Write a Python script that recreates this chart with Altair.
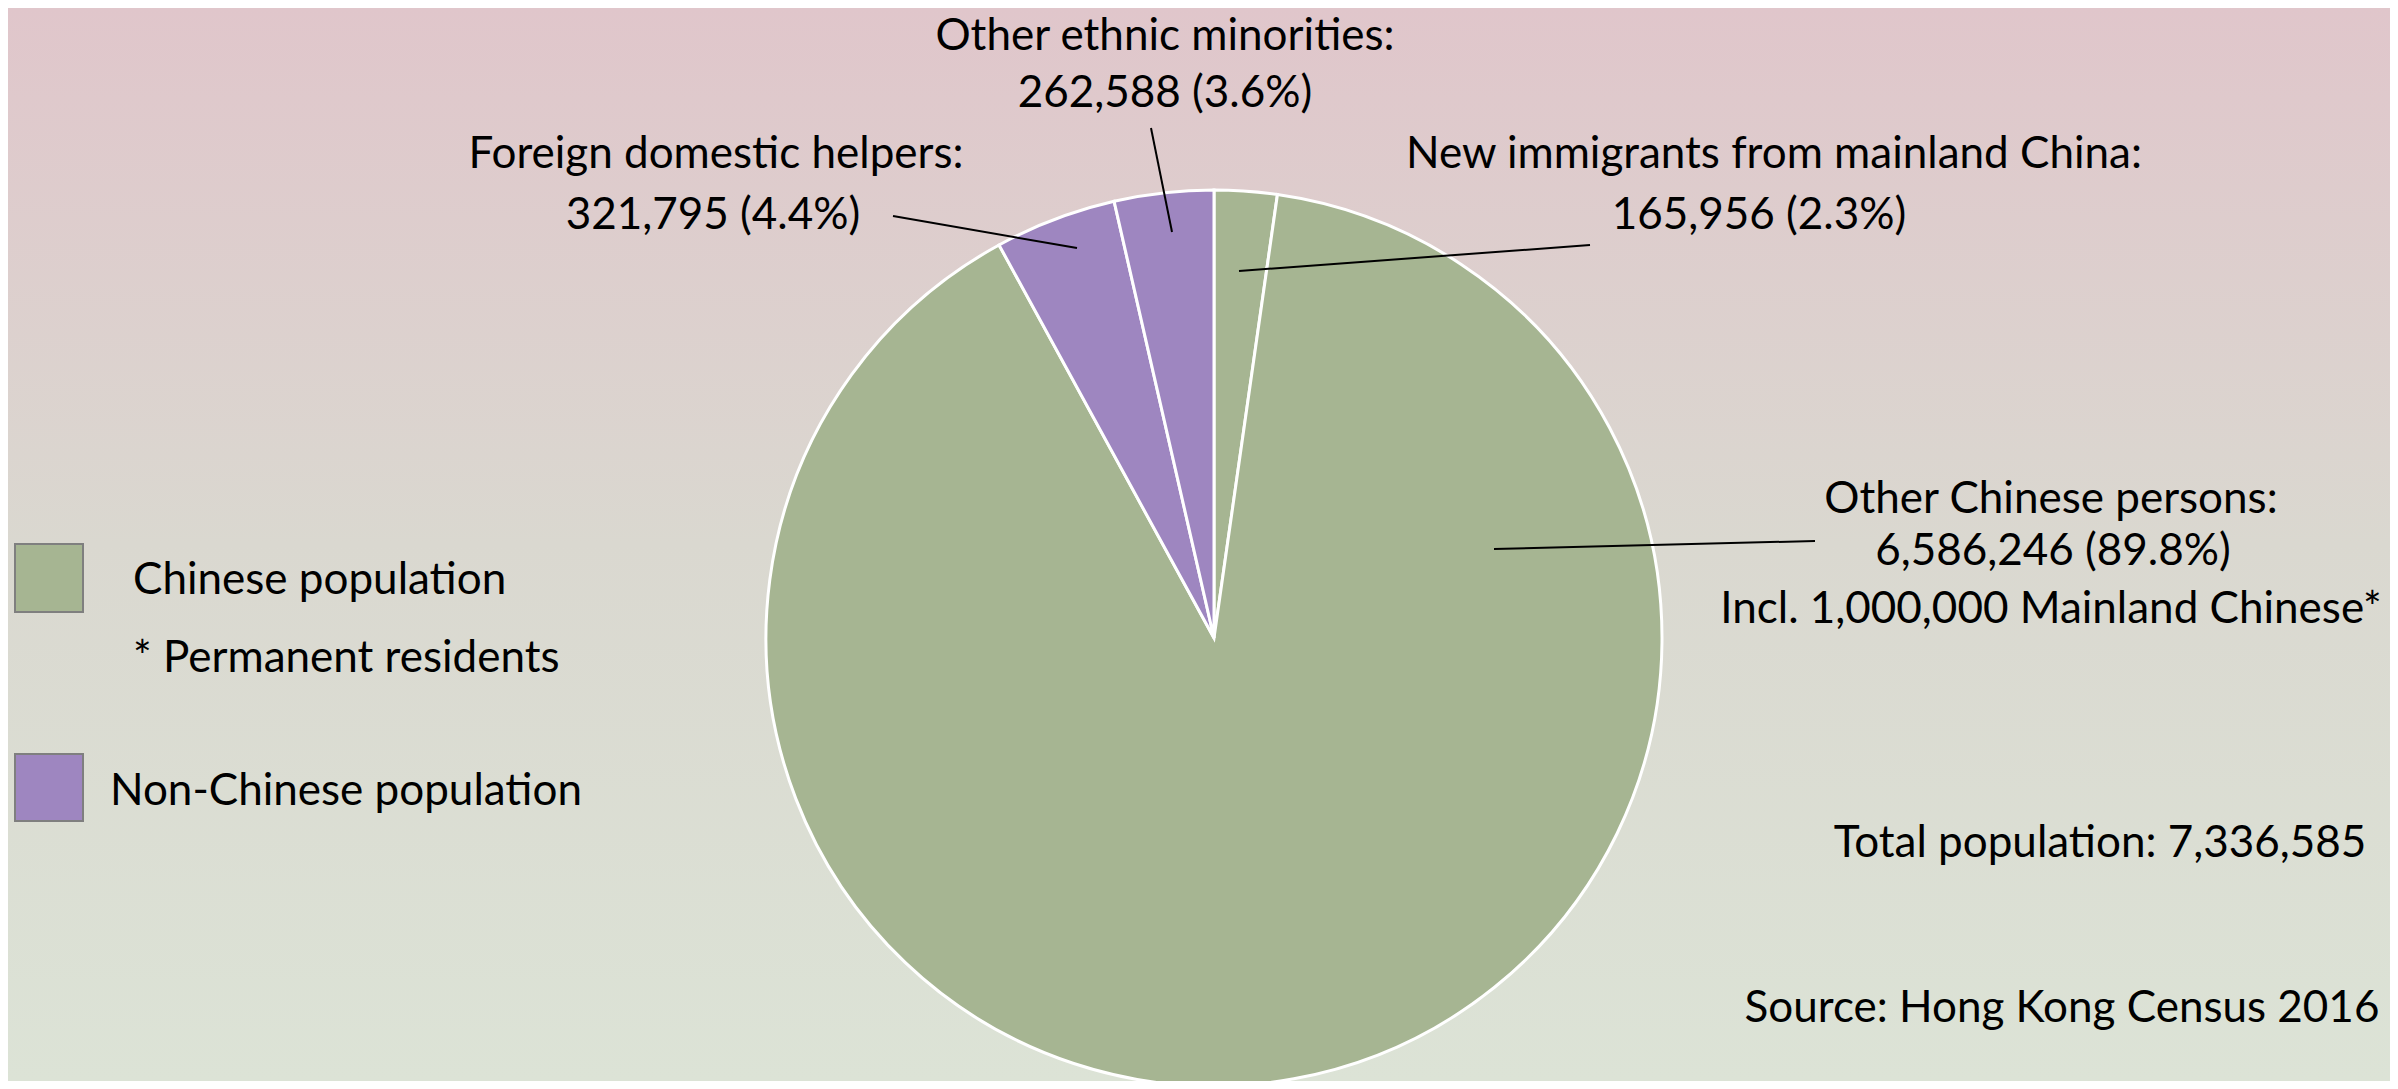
import altair as alt
import pandas as pd

# ---- data ----
slice_names = ["New immigrants from mainland China", "Other Chinese persons",
               "Foreign domestic helpers", "Other ethnic minorities"]
slice_values = [165956, 6586246, 321795, 262588]
slice_groups = ["Chinese population", "Chinese population",
                "Non-Chinese population", "Non-Chinese population"]
slice_pcts = ["2.3%", "89.8%", "4.4%", "3.6%"]
total_population = 7336585
source_text = "Source: Hong Kong Census 2016"
legend_groups = ["Chinese population", "Non-Chinese population"]
legend_note = "* Permanent residents"
extra_note = "Incl. 1,000,000 Mainland Chinese*"

# ---- layout (chart coordinates) ----
W, H = 2382, 1073
OFF = 8
CX, CY, R = 1214 - OFF, 638 - OFF, 448
FONT = "Lato"
FS = 44
GREEN, PURPLE = "#a6b592", "#9e86c0"

def fmt(v):
    return f"{v:,}"

pie_df = pd.DataFrame({
    "name": slice_names, "value": slice_values, "group": slice_groups,
    "idx": list(range(len(slice_names)))})

color_scale = alt.Scale(domain=legend_groups, range=[GREEN, PURPLE])
xs = alt.Scale(domain=[0, W], range=[0, W], zero=False, nice=False)
ys = alt.Scale(domain=[0, H], range=[0, H], zero=False, nice=False)

bg = alt.Chart(pd.DataFrame({"a": [0]})).mark_rect(
    fill=alt.LinearGradient(
        gradient="linear", x1=0, y1=0, x2=0, y2=1,
        stops=[alt.GradientStop(offset=0, color="#e0c6cb"),
               alt.GradientStop(offset=0.5, color="#dad8d0"),
               alt.GradientStop(offset=1, color="#dce3d6")])
).encode(x=alt.value(0), x2=alt.value(W), y=alt.value(0), y2=alt.value(H))

pie = alt.Chart(pie_df).mark_arc(radius=R, stroke="white", strokeWidth=3).encode(
    theta=alt.Theta("value:Q", stack=True),
    color=alt.Color("group:N", scale=color_scale, legend=None),
    order=alt.Order("idx:Q"),
    x=alt.value(CX), y=alt.value(CY),
)

# label text lines built from data
lab_lines = [
    (slice_names[3] + ":", 1165, 37),
    (f"{fmt(slice_values[3])} ({slice_pcts[3]})", 1165, 94),
    (slice_names[2] + ":", 716, 155),
    (f"{fmt(slice_values[2])} ({slice_pcts[2]})", 713, 216),
    (slice_names[0] + ":", 1774, 155),
    (f"{fmt(slice_values[0])} ({slice_pcts[0]})", 1759, 216),
    (slice_names[1] + ":", 2051, 500),
    (f"{fmt(slice_values[1])} ({slice_pcts[1]})", 2053, 552),
    (extra_note, 2051, 610),
    (f"Total population: {fmt(total_population)}", 2100, 844),
    (source_text, 2062, 1009),
]
lab_df = pd.DataFrame({
    "text": [t for t, _, _ in lab_lines],
    "x": [x - OFF for _, x, _ in lab_lines],
    "y": [y - OFF for _, _, y in lab_lines],
})
labels = alt.Chart(lab_df).mark_text(
    font=FONT, fontSize=FS, color="#000000", align="center", baseline="middle"
).encode(x=alt.X("x:Q", scale=xs, axis=None), y=alt.Y("y:Q", scale=ys, axis=None),
         text="text:N")

lead = [
    (1151, 128, 1172, 232),
    (893, 216, 1077, 248),
    (1590, 245, 1239, 271),
    (1815, 541, 1494, 549),
]
lead_df = pd.DataFrame({
    "x": [a - OFF for a, _, _, _ in lead], "y": [b - OFF for _, b, _, _ in lead],
    "x2": [c - OFF for _, _, c, _ in lead], "y2": [d - OFF for _, _, _, d in lead],
})
leaders = alt.Chart(lead_df).mark_rule(color="#000000", strokeWidth=2).encode(
    x=alt.X("x:Q", scale=xs, axis=None), y=alt.Y("y:Q", scale=ys, axis=None),
    x2="x2:Q", y2="y2:Q")

# manual legend
leg_df = pd.DataFrame({
    "group": legend_groups,
    "x": [15 - OFF, 15 - OFF], "x2": [83 - OFF, 83 - OFF],
    "y": [544 - OFF, 754 - OFF], "y2": [612 - OFF, 821 - OFF],
})
swatches = alt.Chart(leg_df).mark_rect(stroke="#7f7f7f", strokeWidth=2).encode(
    x=alt.X("x:Q", scale=xs, axis=None), x2="x2:Q",
    y=alt.Y("y:Q", scale=ys, axis=None), y2="y2:Q",
    color=alt.Color("group:N", scale=color_scale, legend=None))

leg_txt_df = pd.DataFrame({
    "text": [legend_groups[0], legend_note, legend_groups[1]],
    "x": [133 - OFF, 133 - OFF, 110 - OFF],
    "y": [581 - OFF, 659 - OFF, 792 - OFF],
})
leg_text = alt.Chart(leg_txt_df).mark_text(
    font=FONT, fontSize=FS, color="#000000", align="left", baseline="middle"
).encode(x=alt.X("x:Q", scale=xs, axis=None), y=alt.Y("y:Q", scale=ys, axis=None),
         text="text:N")

chart = alt.layer(bg, pie, leaders, labels, swatches, leg_text).properties(
    width=W, height=H, padding=0,
    autosize=alt.AutoSizeParams(type="none"),
).configure_view(strokeWidth=0).configure(background="#ffffff")

chart.save("out.html", embed_options={"renderer": "svg", "actions": False})
